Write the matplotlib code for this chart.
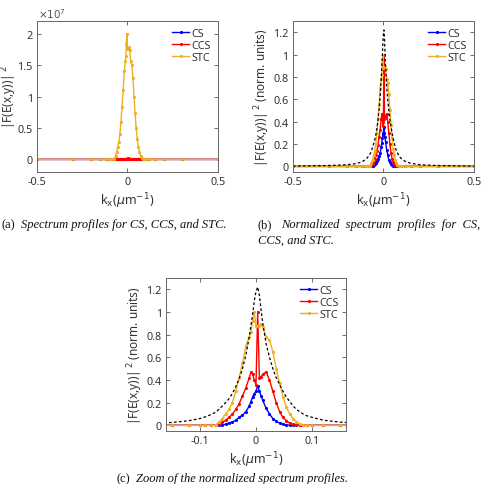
import matplotlib
matplotlib.use("Agg")
import matplotlib.pyplot as plt
import numpy as np

# ---------------- data (normalized spectrum profiles) ----------------
k = [-0.5, -0.3, -0.2, -0.15, -0.12, -0.10, -0.09, -0.08, -0.072, -0.066, -0.060,
     -0.054, -0.048, -0.042, -0.036, -0.030, -0.024, -0.018, -0.012, -0.009, -0.006,
     -0.003, 0.0, 0.003, 0.006, 0.009, 0.012, 0.018, 0.024, 0.030, 0.036, 0.042,
     0.048, 0.054, 0.060, 0.066, 0.072, 0.078, 0.084, 0.09, 0.10, 0.12, 0.15, 0.2,
     0.3, 0.5]
cs = [0, 0, 0, 0, 0, 0, 0, 0, 0, 0, 0.0,
      0.01, 0.02, 0.03, 0.045, 0.07, 0.09, 0.12, 0.17, 0.21, 0.25,
      0.28, 0.30, 0.35, 0.30, 0.26, 0.22, 0.15, 0.10, 0.06, 0.035, 0.02,
      0.01, 0.005, 0.0, 0, 0, 0, 0, 0, 0, 0, 0, 0,
      0, 0]
ccs = [0, 0, 0, 0, 0, 0, 0, 0, 0.0, 0.01, 0.025,
       0.045, 0.07, 0.10, 0.14, 0.19, 0.26, 0.33, 0.42, 0.47, 0.45,
       0.40, 0.36, 1.00, 0.42, 0.43, 0.45, 0.47, 0.40, 0.30, 0.20, 0.12,
       0.07, 0.04, 0.02, 0.01, 0.005, 0, 0, 0, 0, 0, 0, 0,
       0, 0]
stc = [0, 0, 0, 0, 0, 0, 0, 0, 0.0, 0.03, 0.06,
       0.10, 0.14, 0.20, 0.30, 0.42, 0.55, 0.70, 0.78, 0.82, 0.92,
       1.00, 0.88, 0.88, 0.88, 0.89, 0.87, 0.78, 0.75, 0.65, 0.50, 0.37,
       0.25, 0.16, 0.10, 0.06, 0.03, 0.01, 0.0, 0, 0, 0, 0, 0,
       0, 0]
ref = [0.003, 0.008, 0.015, 0.025, 0.04, 0.06, 0.075, 0.095, 0.115, 0.14, 0.17,
       0.20, 0.235, 0.28, 0.34, 0.41, 0.50, 0.62, 0.78, 0.88, 0.98,
       1.10, 1.18, 1.22, 1.15, 1.02, 0.90, 0.72, 0.60, 0.50, 0.42, 0.36,
       0.30, 0.25, 0.21, 0.17, 0.14, 0.12, 0.10, 0.085, 0.07, 0.045, 0.028, 0.015,
       0.008, 0.003]

# raw peak scales for panel (a)
scale_cs = 0.01e7
scale_ccs = 0.03e7
scale_stc = 2.0e7

labels = ["CS", "CCS", "STC"]
colors = ["#0000FF", "#FF0000", "#EDB120"]

plt.rcParams['font.family'] = ['Noto Sans', 'DejaVu Sans']
plt.rcParams['mathtext.fontset'] = 'dejavusans'
txtc = '#333333'

fig = plt.figure(figsize=(4.89, 4.85), dpi=100)

def style(ax, xlim, ylim, xticks, yticks, xtl, ytl):
    ax.set_xlim(*xlim)
    ax.set_ylim(*ylim)
    ax.set_xticks(xticks)
    ax.set_xticklabels(xtl)
    ax.set_yticks(yticks)
    ax.set_yticklabels(ytl)
    ax.tick_params(direction='in', length=3, width=0.6, top=True, right=True,
                   labelsize=7.8, colors='#555555', labelcolor=txtc, pad=3)
    for s in ax.spines.values():
        s.set_color('#666666')
        s.set_linewidth(0.7)
    ax.set_xlabel(r'k$_{\rm x}$($\mu$m$^{-1}$)', fontsize=9, color=txtc, labelpad=2)
    leg = ax.legend(loc='upper right', frameon=False, fontsize=7.8, handlelength=1.6,
                    handletextpad=0.2, labelspacing=0.1, borderaxespad=0.25,
                    labelcolor=txtc)
    return leg

def plot_norm(ax):
    for vals, lab, c in zip([cs, ccs, stc], labels, colors):
        ax.plot(k, vals, color=c, lw=1.0, marker='.', ms=2.5, label=lab)
    ax.plot(k, ref, color='black', lw=0.9, ls=(0, (2.2, 1.8)))

# (a)
axa = fig.add_axes([0.0757, 0.6433, 0.370, 0.3113])
for vals, lab, c, sc in zip([cs, ccs, stc], labels, colors, [scale_cs, scale_ccs, scale_stc]):
    axa.plot(k, np.array(vals) * sc, color=c, lw=1.0, marker='.', ms=2.5, label=lab)
style(axa, (-0.5, 0.5), (-0.2e7, 2.2e7), [-0.5, 0, 0.5], [0, 0.5e7, 1e7, 1.5e7, 2e7],
      ['-0.5', '0', '0.5'], ['0', '0.5', '1', '1.5', '2'])
axa.set_ylabel(r'|F(E(x,y))|$\,^{2}$', fontsize=8.5, color=txtc)
axa.yaxis.set_label_coords(-0.10, 0.5)
fig.text(38/489, 1 - 15/485, r'$\times10^{7}$', fontsize=7.5, color='#555555',
         ha='left', va='center')

# (b)
axb = fig.add_axes([0.599, 0.6433, 0.370, 0.3113])
plot_norm(axb)
style(axb, (-0.5, 0.5), (-0.05, 1.3), [-0.5, 0, 0.5], [0, 0.2, 0.4, 0.6, 0.8, 1.0, 1.2],
      ['-0.5', '0', '0.5'], ['0', '0.2', '0.4', '0.6', '0.8', '1', '1.2'])
axb.set_ylabel(r'|F(E(x,y))|$\,^{2}$ (norm. units)', fontsize=8.5, color=txtc, labelpad=1)

# (c)
axc = fig.add_axes([0.3395, 0.1093, 0.368, 0.3155])
plot_norm(axc)
style(axc, (-0.16, 0.16), (-0.05, 1.3), [-0.1, 0, 0.1], [0, 0.2, 0.4, 0.6, 0.8, 1.0, 1.2],
      ['-0.1', '0', '0.1'], ['0', '0.2', '0.4', '0.6', '0.8', '1', '1.2'])
axc.set_ylabel(r'|F(E(x,y))|$\,^{2}$ (norm. units)', fontsize=8.5, color=txtc, labelpad=1)

# captions
cap_kw = dict(fontsize=9, color='#111111', va='center', family='Liberation Serif')
fig.text(2/489, 1 - 225/485, '(a)', ha='left', **cap_kw)
fig.text(21/489, 1 - 225/485, 'Spectrum profiles for CS, CCS, and STC.', ha='left',
         style='italic', **cap_kw)
fig.text(258/489, 1 - 225/485, '(b)', ha='left', **cap_kw)
fig.text(281/489, 1 - 225/485, 'Normalized  spectrum  profiles  for  CS,', ha='left',
         style='italic', **cap_kw)
fig.text(258/489, 1 - 241/485, 'CCS, and STC.', ha='left', style='italic', **cap_kw)
fig.text(117/489, 1 - 479/485, '(c)', ha='left', **cap_kw)
fig.text(136/489, 1 - 479/485, 'Zoom of the normalized spectrum profiles.', ha='left',
         style='italic', **cap_kw)

fig.savefig('out.png', dpi=100)
